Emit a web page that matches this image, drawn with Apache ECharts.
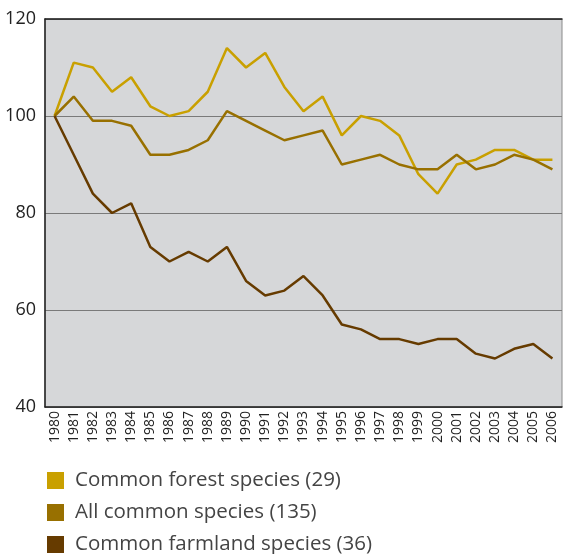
<!DOCTYPE html>
<html><head><meta charset="utf-8">
<script src="https://cdn.jsdelivr.net/npm/echarts@6/dist/echarts.min.js"></script>
<style>html,body{margin:0;padding:0;background:#fff}#c{width:563px;height:554px}</style>
</head><body><div id="c"></div>
<script>
const years = ['1980','1981','1982','1983','1984','1985','1986','1987','1988','1989','1990','1991','1992','1993','1994','1995','1996','1997','1998','1999','2000','2001','2002','2003','2004','2005','2006'];
const forest = [100,111,110,105,108,102,100,101,105,114,110,113,106,101,104,96,100,99,96,88,84,90,91,93,93,91,91];
const allCommon = [100,104,99,99,98,92,92,93,95,101,99,97,95,96,97,90,91,92,90,89,89,92,89,90,92,91,89];
const farmland = [100,92,84,80,82,73,70,72,70,73,66,63,64,67,63,57,56,54,54,53,54,54,51,50,52,53,50];
const seriesNames = ['Common forest species (29)','All common species (135)','Common farmland species (36)'];
const colors = ['#c9a000','#987000','#663b00'];
const yTicks = {min:40,max:120,interval:20};

const chart = echarts.init(document.getElementById('c'));
const mk = (name, data, color) => ({
  name, type:'line', data, symbol:'none', xAxisIndex:0,
  lineStyle:{color, width:2.5}, itemStyle:{color}
});
chart.setOption({
  animation:false,
  grid:{left:45,right:1,top:19,bottom:147,show:true,backgroundColor:'#d6d7d9',borderColor:'#8a8a8a',borderWidth:1},
  legend:{
    orient:'vertical', left:42, top:465, width:520, height:90, itemWidth:17, itemHeight:17, itemGap:11, icon:'rect',
    textStyle:{fontFamily:'Open Sans', fontSize:20.5, lineHeight:20, color:'#444', padding:[0,0,0,6]},
    data:seriesNames
  },
  xAxis:[{
    type:'category', data:years, boundaryGap:true,
    axisLine:{lineStyle:{color:'#222',width:1.5}},
    axisTick:{inside:true,length:10,lineStyle:{color:'#222'}},
    axisLabel:{rotate:90,fontFamily:'Open Sans',fontSize:14,color:'#222',margin:4,interval:0}
  },{
    type:'category', data:years, position:'top', boundaryGap:true,
    axisLine:{lineStyle:{color:'#222',width:1.5}},
    axisTick:{show:false}, axisLabel:{show:false}
  }],
  yAxis:{
    type:'value', min:yTicks.min, max:yTicks.max, interval:yTicks.interval,
    axisLine:{show:true,lineStyle:{color:'#222',width:1.5}},
    axisTick:{show:false},
    splitLine:{lineStyle:{color:'#7a7a7a',width:1.2}},
    axisLabel:{fontFamily:'Open Sans',fontSize:18,color:'#222',margin:9,padding:[9,0,0,0]}
  },
  series:[mk(seriesNames[0],forest,colors[0]),mk(seriesNames[1],allCommon,colors[1]),mk(seriesNames[2],farmland,colors[2])]
});
</script></body></html>
